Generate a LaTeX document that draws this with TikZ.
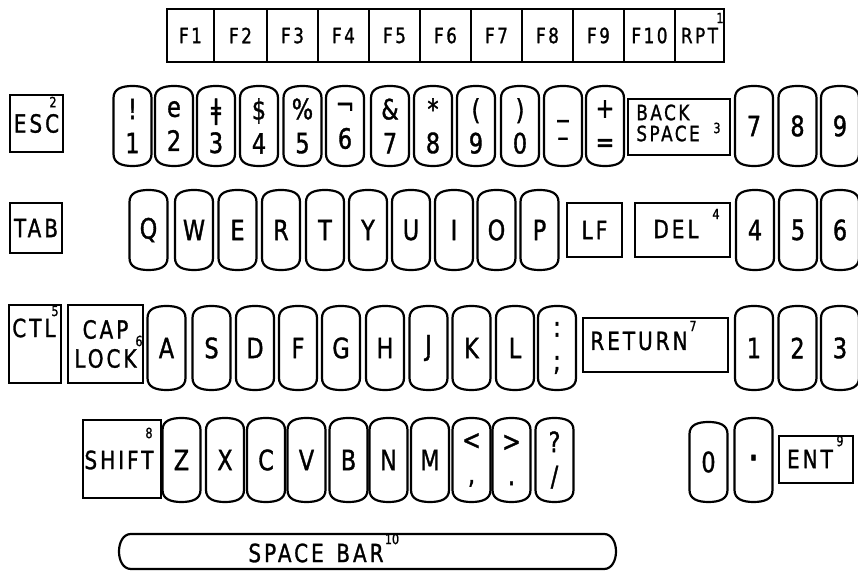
\documentclass[tikz,border=0pt]{standalone}
\usepackage{fontspec}
\setmainfont{DejaVu Sans}[FakeStretch=0.8,FakeBold=1.2]
\newfontfamily\widefont{DejaVu Sans}[FakeStretch=0.8,FakeBold=1.2,LetterSpace=12]
\newcommand\kfont{\fontsize{14}{17}\selectfont}
\newcommand\bfontw{\widefont\fontsize{12.5}{14.5}\selectfont}
\newcommand\ffont{\widefont\fontsize{10.5}{12}\selectfont}
\newcommand\sfont{\fontsize{7}{7}\selectfont}
\tikzset{
  keyline/.style={line width=1.1pt, line join=round},
  keylabel/.style={inner sep=0pt, align=center, font=\kfont},
  boxkey/.style={draw, line width=1.1pt, inner sep=0pt, align=center, font=\bfontw},
  fkeybox/.style={boxkey, minimum height=26.5pt, font=\ffont},
  boxtext/.style={inner sep=0pt, align=center, font=\bfontw},
  supnum/.style={inner sep=0pt, font=\sfont},
}
% keycap: [opts]{name}{cx}{cy}{label}; half height in \kh
\newcommand\keycap[5][]{%
  \node[keylabel,#1] (#2) at (#3,#4) {#5};
  \draw[keyline] (#3-19,#4-\kh+12) .. controls (#3-19,#4-\kh+3) and (#3-11,#4-\kh) .. (#3,#4-\kh)
    .. controls (#3+11,#4-\kh) and (#3+19,#4-\kh+3) .. (#3+19,#4-\kh+12)
    -- (#3+19,#4+\kh-12) .. controls (#3+19,#4+\kh-3) and (#3+11,#4+\kh) .. (#3,#4+\kh)
    .. controls (#3-11,#4+\kh) and (#3-19,#4+\kh-3) .. (#3-19,#4+\kh-12) -- cycle;}
% rectangular key: [opts]{name}{x0}{y0}{x1}{y1}{label}
\newcommand\rkey[7][]{%
  \node[boxkey, minimum width={(#5-#3)*0.5pt}, minimum height={(#6-#4)*0.5pt},#1]
    (#2) at ({(#3+#5)/2},{(#4+#6)/2}) {#7};}
% function key: {name}{label}{x0}{x1}
\newcommand\fkey[4]{%
  \node[fkeybox, minimum width={(#4-#3)*0.5pt}] (#1) at ({(#3+#4)/2},35.5) {#2};}
\begin{document}
\begin{tikzpicture}[x=0.5pt,y=-0.5pt]
\useasboundingbox (0,0) rectangle (858,571);
% ---- function row
\fkey{f1}{F1}{167}{214}
\fkey{f2}{F2}{214}{267}
\fkey{f3}{F3}{267}{318}
\fkey{f4}{F4}{318}{369}
\fkey{f5}{F5}{369}{420}
\fkey{f6}{F6}{420}{471}
\fkey{f7}{F7}{471}{522}
\fkey{f8}{F8}{522}{573}
\fkey{f9}{F9}{573}{624}
\fkey{f10}{F10}{624}{675}
\fkey{rpt}{RPT}{675}{724}
\node[supnum] (n1) at (720,18) {1};
% ---- number row
\def\kh{40}
\rkey{esc}{10}{95}{63}{152}{ESC}
\node[supnum] (n2) at (53,102) {2};
\keycap{k1}{132.5}{126}{!\\1}
\keycap{k2}{174}{126}{e\\2}
\keycap{k3}{216}{126}{ǂ\\3}
\keycap{k4}{259}{126}{\$\\4}
\keycap{k5}{302.5}{126}{\%\\5}
\keycap{k6}{345}{126}{¬\\6}
\keycap{k7}{390}{126}{\&\\7}
\keycap{k8}{433}{126}{*\\8}
\keycap{k9}{476}{126}{(\\9}
\keycap{k0}{520}{126}{)\\0}
\keycap[font=\fontsize{14}{15.5}\selectfont, yshift=-2.5pt]{kminus}{563}{126}{\_\\–}
\keycap{kplus}{605}{126}{+\\=}
\rkey{bksp}{628}{99}{730}{155}{}
\node[boxtext, align=left, anchor=west, font=\widefont\fontsize{10.5}{10.5}\selectfont] (bksptext) at (636,123) {BACK\\SPACE};
\node[supnum] (n3) at (717,128) {3};
\keycap{p7}{754}{126}{7}
\keycap{p8}{797.5}{126}{8}
\keycap{p9}{840}{126}{9}
% ---- QWERTY row
\rkey{tab}{10}{203}{62}{253}{TAB}
\keycap{kq}{148.5}{230}{Q}
\keycap{kw}{194}{230}{W}
\keycap{ke}{237.5}{230}{E}
\keycap{kr}{281}{230}{R}
\keycap{kt}{325}{230}{T}
\keycap{ky}{368}{230}{Y}
\keycap{ku}{411}{230}{U}
\keycap{ki}{454}{230}{I}
\keycap{ko}{496.5}{230}{O}
\keycap{kp}{539.5}{230}{P}
\rkey{lf}{567}{203}{622}{257}{LF}
\rkey{del}{635}{203}{730}{257}{}
\node[boxtext] (deltext) at (676,229) {DEL};
\node[supnum] (n4) at (716,214) {4};
\keycap{p4}{755}{230}{4}
\keycap{p5}{798}{230}{5}
\keycap{p6}{840}{230}{6}
% ---- home row
\def\kh{42}
\rkey{ctl}{9}{305}{61}{383}{}
\node[boxtext] (ctltext) at (34,328) {CTL};
\node[supnum] (n5) at (55,311) {5};
\rkey{caps}{68}{305}{143}{383}{CAP\\LOCK}
\node[supnum] (n6) at (139,341) {6};
\keycap{ka}{166.5}{348}{A}
\keycap{ks}{211.5}{348}{S}
\keycap{kd}{255}{348}{D}
\keycap{kf}{298}{348}{F}
\keycap{kg}{341}{348}{G}
\keycap{kh}{385}{348}{H}
\keycap{kj}{428.5}{348}{J}
\keycap{kk}{471.5}{348}{K}
\keycap{kl}{515}{348}{L}
\keycap{ksemi}{557}{348}{:\\;}
\rkey{ret}{583}{318}{728}{372}{}
\node[boxtext] (rettext) at (639,341) {RETURN};
\node[supnum] (n7) at (693,326) {7};
\keycap{p1}{754}{348}{1}
\keycap{p2}{797.5}{348}{2}
\keycap{p3}{840}{348}{3}
% ---- bottom row
\rkey{shift}{83}{420}{161}{498}{}
\node[boxtext] (shifttext) at (119,460) {SHIFT};
\node[supnum] (n8) at (149,433) {8};
\keycap{kz}{181.5}{460}{Z}
\keycap{kx}{225}{460}{X}
\keycap{kc}{266}{460}{C}
\keycap{kv}{306.5}{460}{V}
\keycap{kb}{348.5}{460}{B}
\keycap{kn}{388.5}{460}{N}
\keycap{km}{430}{460}{M}
\keycap{kcomma}{471.5}{460}{<\\,}
\keycap{kdot}{511.5}{460}{>\\.}
\keycap{kslash}{554.5}{460}{?\\/}
\def\kh{40}
\keycap{p0}{708.5}{462}{0}
\def\kh{42}
\keycap[font=\fontsize{22}{22}\selectfont, yshift=-2pt]{pdot}{753.5}{460}{·}
\rkey{ent}{779}{436}{853}{483}{}
\node[boxtext] (enttext) at (810,459) {ENT};
\node[supnum] (n9) at (840,441) {9};
% ---- space bar
\draw[keyline] (131,534) -- (604,534) .. controls (620,534) and (620,569) .. (604,569)
  -- (131,569) .. controls (115,569) and (115,534) .. (131,534) -- cycle;
\node[boxtext] (spacetext) at (316,553) {SPACE\hspace{0.5em}BAR};
\node[supnum] (n10) at (392,539) {10};
\end{tikzpicture}
\end{document}
